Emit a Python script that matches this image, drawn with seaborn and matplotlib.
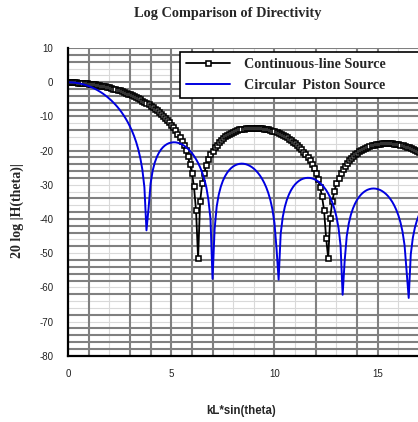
import matplotlib
matplotlib.use("Agg")
import matplotlib.pyplot as plt
import seaborn as sns

# ---- data ----
kl = [
    0.0, 0.1, 0.2, 0.3, 0.4, 0.5, 0.6, 0.7, 0.8, 0.9,
    1.0, 1.1, 1.2, 1.3, 1.4, 1.5, 1.6, 1.7, 1.8, 1.9,
    2.0, 2.1, 2.2, 2.3, 2.4, 2.5, 2.6, 2.7, 2.8, 2.9,
    3.0, 3.1, 3.2, 3.3, 3.4, 3.5, 3.6, 3.7, 3.8, 3.9,
    4.0, 4.1, 4.2, 4.3, 4.4, 4.5, 4.6, 4.7, 4.8, 4.9,
    5.0, 5.1, 5.2, 5.3, 5.4, 5.5, 5.6, 5.7, 5.8, 5.9,
    6.0, 6.1, 6.2, 6.3, 6.4, 6.5, 6.6, 6.7, 6.8, 6.9,
    7.0, 7.1, 7.2, 7.3, 7.4, 7.5, 7.6, 7.7, 7.8, 7.9,
    8.0, 8.1, 8.2, 8.3, 8.4, 8.5, 8.6, 8.7, 8.8, 8.9,
    9.0, 9.1, 9.2, 9.3, 9.4, 9.5, 9.6, 9.7, 9.8, 9.9,
    10.0, 10.1, 10.2, 10.3, 10.4, 10.5, 10.6, 10.7, 10.8, 10.9,
    11.0, 11.1, 11.2, 11.3, 11.4, 11.5, 11.6, 11.7, 11.8, 11.9,
    12.0, 12.1, 12.2, 12.3, 12.4, 12.5, 12.6, 12.7, 12.8, 12.9,
    13.0, 13.1, 13.2, 13.3, 13.4, 13.5, 13.6, 13.7, 13.8, 13.9,
    14.0, 14.1, 14.2, 14.3, 14.4, 14.5, 14.6, 14.7, 14.8, 14.9,
    15.0, 15.1, 15.2, 15.3, 15.4, 15.5, 15.6, 15.7, 15.8, 15.9,
    16.0, 16.1, 16.2, 16.3, 16.4, 16.5, 16.6, 16.7, 16.8, 16.9,
    17.0,
]

line_source_db = [
    0.00, -0.00, -0.01, -0.03, -0.06, -0.09, -0.13, -0.18, -0.23, -0.30,
    -0.37, -0.44, -0.53, -0.62, -0.72, -0.83, -0.95, -1.07, -1.21, -1.35,
    -1.50, -1.66, -1.83, -2.01, -2.19, -2.39, -2.60, -2.82, -3.05, -3.29,
    -3.54, -3.81, -4.09, -4.38, -4.68, -5.00, -5.34, -5.69, -6.05, -6.44,
    -6.85, -7.27, -7.72, -8.20, -8.69, -9.22, -9.78, -10.38, -11.01, -11.69,
    -12.42, -13.20, -14.06, -14.99, -16.01, -17.15, -18.44, -19.92, -21.67, -23.80,
    -26.55, -30.46, -37.45, -51.47, -34.78, -29.55, -26.41, -24.19, -22.48, -21.11,
    -19.98, -19.03, -18.21, -17.50, -16.88, -16.34, -15.86, -15.44, -15.07, -14.75,
    -14.46, -14.21, -14.00, -13.81, -13.66, -13.53, -13.43, -13.35, -13.30, -13.27,
    -13.26, -13.28, -13.31, -13.37, -13.44, -13.54, -13.66, -13.80, -13.96, -14.14,
    -14.34, -14.57, -14.82, -15.10, -15.40, -15.72, -16.08, -16.47, -16.89, -17.34,
    -17.84, -18.37, -18.96, -19.60, -20.30, -21.07, -21.93, -22.88, -23.96, -25.20,
    -26.64, -28.36, -30.50, -33.31, -37.46, -45.50, -51.47, -39.57, -34.79, -31.79,
    -29.61, -27.90, -26.52, -25.36, -24.38, -23.52, -22.77, -22.12, -21.53, -21.01,
    -20.55, -20.14, -19.77, -19.44, -19.15, -18.90, -18.67, -18.48, -18.31, -18.17,
    -18.06, -17.97, -17.90, -17.85, -17.83, -17.83, -17.85, -17.90, -17.96, -18.04,
    -18.15, -18.30, -18.44, -18.61, -18.81, -19.03, -19.27, -19.55, -19.85, -20.18,
    -20.54,
]

piston_source_db = [
    0.00, -0.01, -0.04, -0.10, -0.17, -0.27, -0.39, -0.54, -0.70, -0.89,
    -1.11, -1.35, -1.61, -1.90, -2.22, -2.57, -2.95, -3.35, -3.79, -4.27,
    -4.78, -5.33, -5.93, -6.57, -7.26, -8.01, -8.82, -9.71, -10.67, -11.74,
    -12.92, -14.24, -15.74, -17.47, -19.54, -22.10, -25.51, -30.72, -43.32, -37.00,
    -29.62, -25.87, -23.53, -21.87, -20.65, -19.71, -19.00, -18.46, -18.07, -17.79,
    -17.65, -17.56, -17.57, -17.68, -17.86, -18.12, -18.47, -18.90, -19.41, -20.02,
    -20.70, -21.54, -22.50, -23.60, -24.90, -26.44, -28.33, -30.71, -34.39, -39.95,
    -57.51, -42.97, -36.41, -32.89, -30.55, -28.84, -27.54, -26.53, -25.73, -25.11,
    -24.63, -24.27, -24.02, -23.87, -23.81, -23.84, -23.95, -24.15, -24.44, -24.81,
    -25.27, -25.84, -26.52, -27.32, -28.27, -29.39, -30.74, -32.39, -34.46, -37.21,
    -41.22, -48.78, -57.74, -44.32, -39.43, -36.46, -34.37, -32.81, -31.59, -30.62,
    -29.86, -29.25, -28.78, -28.42, -28.17, -28.02, -27.96, -27.98, -28.10, -28.29,
    -28.58, -28.96, -29.43, -30.01, -30.71, -31.54, -32.54, -33.74, -35.19, -36.99,
    -39.32, -42.55, -47.75, -62.18, -52.12, -44.98, -41.24, -38.74, -36.92, -35.51,
    -34.40, -33.51, -32.80, -32.24, -31.80, -31.47, -31.25, -31.12, -31.08, -31.13,
    -31.26, -31.48, -31.79, -32.20, -32.70, -33.32, -34.07, -34.96, -36.04, -37.34,
    -38.94, -40.98, -43.69, -47.72, -55.43, -63.10, -50.33, -45.49, -42.51, -40.39,
    -38.79,
]

series_names = ["Continuous-line Source", "Circular  Piston Source"]
y_ticks = [10, 0, -10, -20, -30, -40, -50, -60, -70, -80]
x_ticks = [0, 5, 10, 15]
title_text = "Log Comparison of Directivity"
x_label = "kL*sin(theta)"
y_label = "20 log |H(theta)|"

# ---- styling (grid layout imitating the original Excel chart) ----
vgrid_dark = [1, 3, 4, 5, 6, 7, 10, 12, 14, 15]
vgrid_light = [2, 8, 9, 11, 13, 16]
hgrid_dark = [10, 8, 6, 0, -2, -4, -6, -8, -10, -14, -20, -22, -24, -26, -28,
              -34, -38, -40, -42, -44, -48, -52, -54, -56, -58, -62, -68,
              -72, -74, -76, -78]
hgrid_light = [4, 2, -12, -16, -18, -30, -32, -36, -46, -50, -60, -64, -66, -70]

sns.set_style("white")
plt.rcParams['font.family'] = ['Liberation Sans', 'DejaVu Sans']
plt.rcParams['axes.unicode_minus'] = False

W, H = 418, 422
fig = plt.figure(figsize=(W / 100, H / 100), dpi=100)
fig.patch.set_facecolor("white")

ax_left, ax_right, ax_top, ax_bottom = 68, 418, 48.1, 355.7
ax = fig.add_axes([ax_left / W, 1 - ax_bottom / H,
                   (ax_right - ax_left) / W, (ax_bottom - ax_top) / H])
ax.set_xlim(0, 16.95)
ax.set_ylim(-80, 10)

for v in vgrid_light:
    ax.axvline(v, color="#d9d9d9", lw=0.8, zorder=0.5)
for h in hgrid_light:
    ax.axhline(h, color="#d9d9d9", lw=0.8, zorder=0.5)
for v in vgrid_dark:
    ax.axvline(v, color="#808080", lw=1.5, zorder=0.6)
for h in hgrid_dark:
    ax.axhline(h, color="#808080", lw=1.5, zorder=0.6)

sns.lineplot(x=kl, y=line_source_db, ax=ax, color="black", lw=1.3,
             marker="s", markersize=3.6, markerfacecolor="white",
             markeredgecolor="black", markeredgewidth=1.15,
             label=series_names[0], zorder=4)
sns.lineplot(x=kl, y=piston_source_db, ax=ax, color="#0000e0", lw=1.4,
             label=series_names[1], zorder=5)

for side in ("top", "right"):
    ax.spines[side].set_visible(False)
for side in ("left", "bottom"):
    ax.spines[side].set_color("black")
    ax.spines[side].set_linewidth(1.6)
    ax.spines[side].set_zorder(6)

ax.set_xticks(x_ticks)
ax.set_yticks(y_ticks)
ax.tick_params(axis="both", direction="out", length=4.5, width=1.4,
               color="black", labelsize=7, labelcolor="#222222")
ax.tick_params(axis="y", pad=6)
ax.tick_params(axis="x", pad=5)
ax.set_xlabel("")
ax.set_ylabel("")

handles, labels = ax.get_legend_handles_labels()
order = [labels.index(series_names[0]), labels.index(series_names[1])]
leg = ax.legend([handles[i] for i in order], [labels[i] for i in order],
                loc="upper left",
                bbox_to_anchor=(180 / W, 1 - 98.3 / H, 245 / W, (98.3 - 51.7) / H),
                bbox_transform=fig.transFigure, mode="expand",
                borderaxespad=0, borderpad=0.45, labelspacing=0.55,
                handlelength=3.1, handletextpad=0.95, numpoints=1,
                fancybox=False, framealpha=1, edgecolor="black",
                prop={"family": ["Liberation Serif"], "weight": "bold", "size": 10.2})
leg.get_frame().set_linewidth(1.2)
leg.set_zorder(10)

fig.text(228 / W, 1 - 13 / H, title_text, ha="center", va="center",
         family=["Liberation Serif"], weight="bold", fontsize=10.3)
fig.text(241 / W, 1 - 411 / H, x_label, ha="center", va="center",
         family=["Liberation Sans"], weight="bold", fontsize=8.3)
fig.text(17 / W, 1 - 211 / H, y_label, ha="center", va="center", rotation=90,
         family=["Liberation Serif"], weight="bold", fontsize=10)

fig.savefig("out.png", dpi=100, facecolor="white")
